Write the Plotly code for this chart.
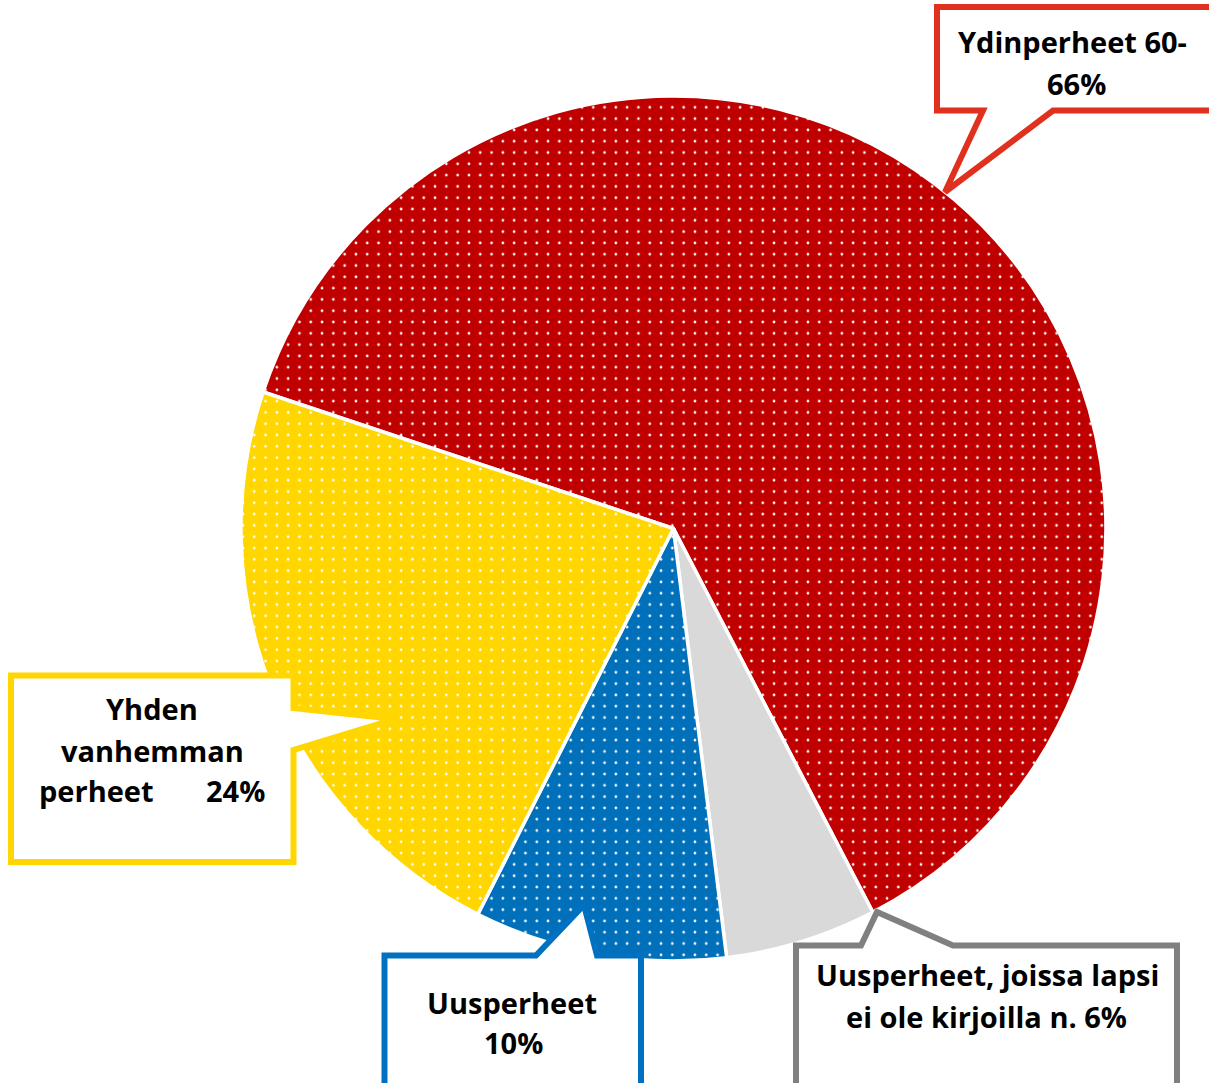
import plotly.graph_objects as go

W, H = 1209, 1083

# ---- data ----
labels = ["Ydinperheet", "Uusperheet, joissa lapsi ei ole kirjoilla",
          "Uusperheet", "Yhden vanhemman perheet"]
values = [66, 6, 10, 24]
slice_colors = ["#C00000", "#D9D9D9", "#0070BA", "#FFD600"]
slice_patterns = [".", "", ".", "."]

red_lines = ["Ydinperheet 60-", "66%"]
gray_lines = ["Uusperheet, joissa lapsi", "ei ole kirjoilla n. 6%"]
blue_lines = ["Uusperheet", "10%"]
yellow_lines = ["Yhden", "vanhemman", "perheet", "24%"]

callout_colors = {"red": "#E0301E", "gray": "#808080", "blue": "#0070C0", "yellow": "#FFD600"}

FONT = "Open Sans"
FS = 29


def px(x):
    return x / W


def py(y):
    return 1 - y / H


def path_from(points):
    s = "M " + " L ".join(f"{px(x):.5f},{py(y):.5f}" for x, y in points) + " Z"
    return s


fig = go.Figure()

fig.add_trace(go.Pie(
    labels=labels,
    values=values,
    sort=False,
    direction="clockwise",
    rotation=-71.6,
    textinfo="none",
    hoverinfo="label+percent",
    showlegend=False,
    marker=dict(
        colors=slice_colors,
        line=dict(color="white", width=3.5),
        pattern=dict(shape=slice_patterns, fgcolor=["white"] * len(values),
                     bgcolor=slice_colors, fillmode="replace",
                     size=11.3, solidity=0.045),
    ),
    domain=dict(x=[240.9 / W, 1106 / W], y=[1 - 961 / H, 1 - 96 / H]),
))

# ---- callout boxes (shapes) ----
callouts = [
    ("red", [(937, 7), (1225, 7), (1225, 110.5), (1053, 110.5), (945, 192), (983, 110.5), (937, 110.5)]),
    ("yellow", [(11, 675.5), (293.5, 675.5), (293.5, 708), (395, 719), (293.5, 750), (293.5, 862), (11, 862)]),
    ("blue", [(384.5, 955.5), (536, 955.5), (584, 905), (597, 955.5), (641, 955.5), (641, 1100), (384.5, 1100)]),
    ("gray", [(796, 945.5), (861, 945.5), (877, 912), (953, 945.5), (1177, 945.5), (1177, 1100), (796, 1100)]),
]
shapes = []
for key, pts in callouts:
    shapes.append(dict(
        type="path", xref="paper", yref="paper", path=path_from(pts),
        fillcolor="white", line=dict(color=callout_colors[key], width=6),
        layer="above",
    ))

# ---- callout texts ----
BASE_OFF = 11.3  # baseline -> box middle


def ann(text, x, baseline, xanchor="center"):
    return dict(
        text=text, x=px(x), y=py(baseline - BASE_OFF), xref="paper", yref="paper",
        xanchor=xanchor, yanchor="middle", showarrow=False,
        font=dict(family=FONT, size=FS, color="black", weight="bold"),
    )


annotations = [
    ann(red_lines[0], 1072, 53.3),
    ann(red_lines[1], 1076, 95),
    ann(yellow_lines[0], 152, 719.3),
    ann(yellow_lines[1], 152, 761.7),
    ann(yellow_lines[2], 37, 801.7, "left"),
    ann(yellow_lines[3], 267, 801.7, "right"),
    ann(blue_lines[0], 512, 1014),
    ann(blue_lines[1], 513, 1054),
    ann(gray_lines[0], 987, 986),
    ann(gray_lines[1], 986, 1028),
]

fig.update_layout(
    width=W, height=H,
    margin=dict(l=0, r=0, t=0, b=0),
    paper_bgcolor="white",
    plot_bgcolor="white",
    shapes=shapes,
    annotations=annotations,
    showlegend=False,
)

fig.write_html("out.html", config={"displayModeBar": False},
               post_script="document.body.style.margin='0';document.body.style.overflow='hidden';")
